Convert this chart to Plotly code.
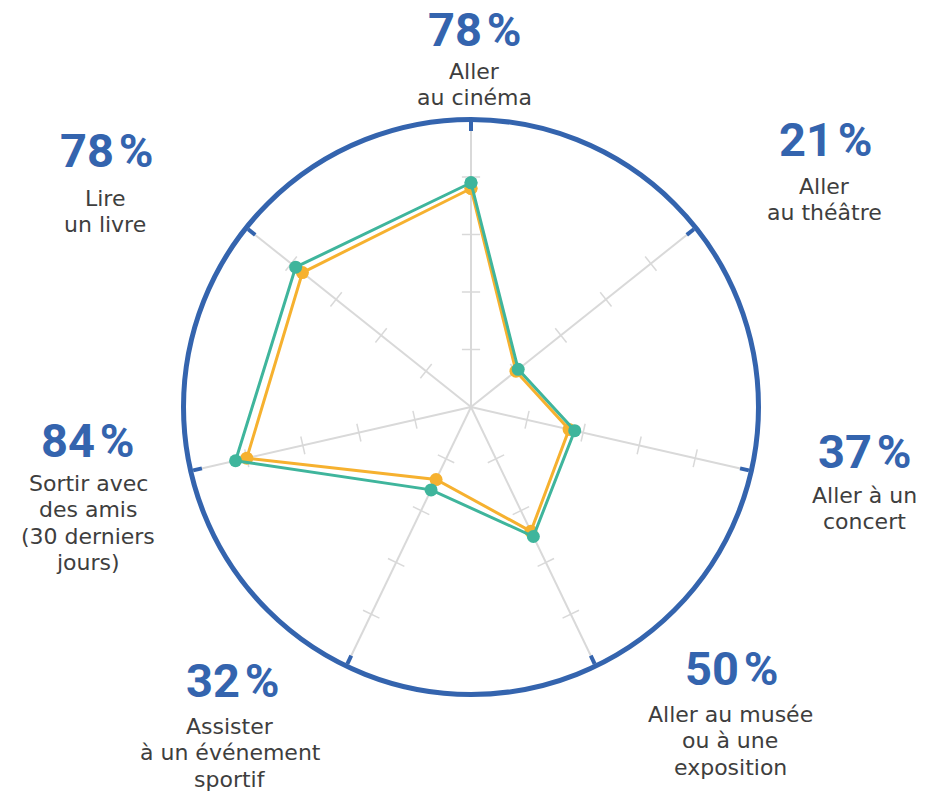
import plotly.graph_objects as go

# ---- data ----
categories = ["Aller au cinéma", "Aller au théâtre", "Aller à un concert",
              "Aller au musée ou à une exposition", "Assister à un événement sportif",
              "Sortir avec des amis (30 derniers jours)", "Lire un livre"]
label_lines = [["Aller", "au cinéma"], ["Aller", "au théâtre"], ["Aller à un", "concert"],
               ["Aller au musée", "ou à une", "exposition"],
               ["Assister", "à un événement", "sportif"],
               ["Sortir avec", "des amis", "(30 derniers", "jours)"],
               ["Lire", "un livre"]]
series_green = [78, 21, 37, 50, 32, 84, 78]
series_orange = [76, 20, 35, 48, 28, 80, 75]
radial_ticks = [20, 40, 60, 80]

# ---- layout constants ----
W, H = 939, 793
CX, CY, R = 471, 407, 287.5
BLUE = "#3464AE"
GREEN = "#3FB59C"
ORANGE = "#F6B12F"
GRID = "#D9D9D9"
TEXT = "#3E3E3E"

# label anchor positions (pixels): percentage centre, first text baseline
pct_pos = [(475, 29), (825, 139), (864, 451), (731, 668), (232, 680), (87, 440), (106, 150)]
txt_pos = [(475, 79), (824, 194), (864, 503), (730, 722), (230, 734), (88, 491), (105, 206)]
LINE_GAP = 26.4
PCT_SIZE = 47
TXT_SIZE = 22

n = len(categories)
angles = [360 * i / n for i in range(n)]

fig = go.Figure()

# tick marks along each spoke
tick_r, tick_t, tick_a = [], [], []
for c, a in zip(categories, angles):
    for rv in radial_ticks:
        tick_r.append(rv)
        tick_t.append(c)
        tick_a.append(a)
fig.add_trace(go.Scatterpolar(
    r=tick_r, theta=tick_t, mode="markers", hoverinfo="skip",
    marker=dict(symbol="line-ew", size=13, angle=tick_a,
                line=dict(color=GRID, width=1.5)),
    showlegend=False))

for vals, col in [(series_orange, ORANGE), (series_green, GREEN)]:
    fig.add_trace(go.Scatterpolar(
        r=vals + vals[:1], theta=categories + categories[:1],
        mode="lines+markers",
        line=dict(color=col, width=3),
        marker=dict(color=col, size=13),
        showlegend=False))

fig.update_layout(
    width=W, height=H,
    margin=dict(l=0, r=0, t=0, b=0),
    paper_bgcolor="white",
    plot_bgcolor="white",
    showlegend=False,
    polar=dict(
        domain=dict(x=[(CX - R) / W, (CX + R) / W],
                    y=[1 - (CY + R) / H, 1 - (CY - R) / H]),
        bgcolor="rgba(0,0,0,0)",
        radialaxis=dict(range=[0, 100], showgrid=False, showline=False,
                        showticklabels=False, ticks=""),
        angularaxis=dict(type="category", categoryarray=categories,
                         rotation=90, direction="clockwise",
                         showline=True, linecolor=BLUE, linewidth=5,
                         showgrid=True, gridcolor=GRID, gridwidth=1.5,
                         ticks="inside", ticklen=9, tickwidth=4, tickcolor=BLUE,
                         showticklabels=False),
    ),
)

annotations = []
for i in range(n):
    px, py = pct_pos[i]
    annotations.append(dict(
        x=px / W, y=1 - py / H, xref="paper", yref="paper",
        xanchor="center", yanchor="middle", showarrow=False,
        text=f"{series_green[i]}\u200a%",
        font=dict(family="Roboto, sans-serif",
                  size=PCT_SIZE, color=BLUE, weight="bold")))
    tx, ty = txt_pos[i]
    for j, line in enumerate(label_lines[i]):
        by = ty + j * LINE_GAP - 0.346 * TXT_SIZE
        annotations.append(dict(
            x=tx / W, y=1 - by / H, xref="paper", yref="paper",
            xanchor="center", yanchor="middle", showarrow=False,
            text=line,
            font=dict(family="DejaVu Sans", size=TXT_SIZE, color=TEXT)))
fig.update_layout(annotations=annotations)

fig.write_html("out.html", config={"displayModeBar": False},
               post_script="document.body.style.margin='0';document.body.style.overflow='hidden';")
